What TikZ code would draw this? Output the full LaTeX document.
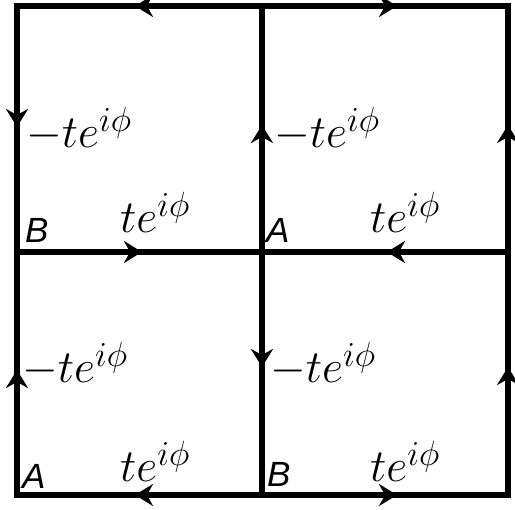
\RequirePackage{fix-cm}
\documentclass[tikz,border=0pt]{standalone}
\usepackage{fontspec}
\newfontfamily\labfont{Liberation Sans}
\usetikzlibrary{arrows.meta,decorations.markings}
\DeclareMathSizes{46}{46}{35}{28}
\begin{document}
\begin{tikzpicture}[x=1pt,y=-1pt,
  bond/.style={line width=6pt, line cap=rect, postaction={decorate},
    decoration={markings, mark=at position #1pt with {\arrow{Stealth[length=18pt,width=22pt,inset=6pt]}}}},
  hop/.style={font=\fontsize{46}{54}\selectfont, inner sep=0pt, anchor=base west},
  site/.style={font=\fontsize{35}{42}\selectfont\labfont\itshape, inner sep=0pt, anchor=base west}]
\useasboundingbox (0,0) rectangle (515,510);
\coordinate (a1) at (17,6);   \coordinate (a2) at (262,6);   \coordinate (a3) at (508,6);
\coordinate (b1) at (17,252); \coordinate (b2) at (262,252); \coordinate (b3) at (508,252);
\coordinate (c1) at (17,495); \coordinate (c2) at (262,495); \coordinate (c3) at (508,495);
% horizontal bonds
\draw[bond=127] (a2) -- (a1);
\draw[bond=135] (a2) -- (a3);
\draw[bond=125] (b1) -- (b2);
\draw[bond=121] (b3) -- (b2);
\draw[bond=127] (c2) -- (c1);
\draw[bond=135] (c2) -- (c3);
% vertical bonds
\draw[bond=121] (a1) -- (b1);
\draw[bond=127] (b2) -- (a2);
\draw[bond=127] (b3) -- (a3);
\draw[bond=125] (c1) -- (b1);
\draw[bond=115] (b2) -- (c2);
\draw[bond=128] (c3) -- (b3);
% hopping labels
\node[hop] (h1) at (26,148) {$-te^{i\phi}$};
\node[hop] (h2) at (274,148) {$-te^{i\phi}$};
\node[hop] (h3) at (22,383) {$-te^{i\phi}$};
\node[hop] (h4) at (270,383) {$-te^{i\phi}$};
\node[hop] (h5) at (120,233) {$te^{i\phi}$};
\node[hop] (h6) at (370,233) {$te^{i\phi}$};
\node[hop] (h7) at (120,482) {$te^{i\phi}$};
\node[hop] (h8) at (370,482) {$te^{i\phi}$};
% site labels
\node[site] (s1) at (25,243) {B};
\node[site] (s2) at (266,243) {A};
\node[site] (s3) at (22,489) {A};
\node[site] (s4) at (267,487) {B};
\end{tikzpicture}
\end{document}
